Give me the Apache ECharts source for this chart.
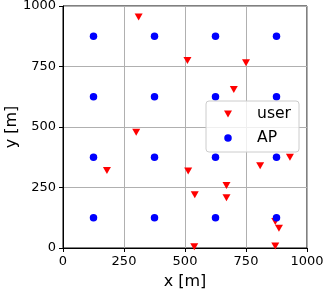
<!DOCTYPE html>
<html>
<head>
<meta charset="utf-8">
<script src="https://cdn.jsdelivr.net/npm/echarts@6/dist/echarts.min.js"></script>
<style>
html,body{margin:0;padding:0;background:#fff;}
#chart{width:324px;height:290px;}
</style>
</head>
<body>
<div id="chart"></div>
<script>
var userX = [310, 510, 750, 700, 300, 930, 180, 513, 808, 670, 540, 670, 870, 885, 538, 870];
var userY = [955, 775, 765, 655, 478, 375, 320, 318, 340, 258, 220, 208, 110, 82, 5, 8];
var apX = [125, 375, 625, 875, 125, 375, 625, 875, 125, 375, 625, 875, 125, 375, 625, 875];
var apY = [875, 875, 875, 875, 625, 625, 625, 625, 375, 375, 375, 375, 125, 125, 125, 125];
var seriesNames = ['user', 'AP'];
var axisTicks = [0, 250, 500, 750, 1000];

var userData = userX.map(function (x, i) { return [x, userY[i]]; });
var apData = apX.map(function (x, i) { return [x, apY[i]]; });

var font = 'DejaVu Sans';
function axis(name, gap) {
  return {
    type: 'value', min: axisTicks[0], max: axisTicks[axisTicks.length - 1],
    interval: axisTicks[1] - axisTicks[0],
    name: name, nameLocation: 'middle', nameGap: gap, nameMoveOverlap: false,
    nameTextStyle: { fontFamily: font, fontSize: 16, color: '#000' },
    axisLine: { show: true, onZero: false, lineStyle: { color: '#000', width: 1 } },
    axisTick: { show: true, inside: false, length: 4, lineStyle: { color: '#000', width: 1 } },
    axisLabel: { fontFamily: font, fontSize: 13, color: '#000', margin: 7, formatter: function (v) { return String(v); } },
    splitLine: { show: true, lineStyle: { color: '#b0b0b0', width: 1 } }
  };
}
var chart = echarts.init(document.getElementById('chart'));
chart.setOption({
  animation: false,
  backgroundColor: '#fff',
  grid: { left: 63, right: 17, top: 6, bottom: 42, containLabel: false, outerBoundsMode: 'none', show: true, borderColor: '#000', borderWidth: 1, backgroundColor: 'transparent' },
  xAxis: axis('x [m]', 26),
  yAxis: axis('y [m]', 43),
  legend: {
    orient: 'vertical', left: 206, top: 101,
    data: [
      { name: seriesNames[0], icon: 'path://M0,0L8,0L4,7Z' },
      { name: seriesNames[1], icon: 'circle' }
    ],
    padding: [4, 8, 5, 18],
    itemGap: 6, itemWidth: 8, itemHeight: 7.5,
    backgroundColor: 'rgba(255,255,255,0.8)',
    borderColor: '#cccccc', borderWidth: 1, borderRadius: 3,
    textStyle: { fontFamily: font, fontSize: 15.6, color: '#000', padding: [0, 0, 0, 20], lineHeight: 18 }
  },
  series: [
    { name: seriesNames[0], type: 'scatter', data: userData, symbol: 'triangle', symbolRotate: 180, symbolSize: [8, 7], itemStyle: { color: '#ff0000', opacity: 1 }, z: 3 },
    { name: seriesNames[1], type: 'scatter', data: apData, symbol: 'circle', symbolSize: 7.5, itemStyle: { color: '#0000ff', opacity: 1 }, z: 3 }
  ]
});
</script>
</body>
</html>
